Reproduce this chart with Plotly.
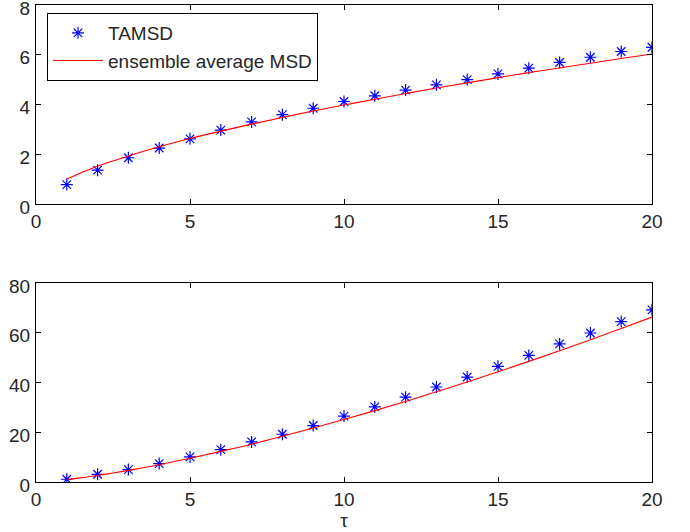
import plotly.graph_objects as go
from plotly.subplots import make_subplots

# ---- data ----
tau_points = [1, 2, 3, 4, 5, 6, 7, 8, 9, 10, 11, 12, 13, 14, 15, 16, 17, 18, 19, 20]
tamsd_top = [0.78, 1.36, 1.86, 2.25, 2.62, 2.97, 3.30, 3.59, 3.85, 4.12,
             4.35, 4.58, 4.79, 5.00, 5.23, 5.46, 5.69, 5.90, 6.13, 6.30]
tamsd_bottom = [1.1, 3.1, 5.0, 7.4, 10.1, 13.0, 16.1, 19.2, 22.7, 26.5,
                30.2, 34.1, 38.2, 42.2, 46.5, 50.9, 55.5, 59.9, 64.5, 69.2]

tau_line = [1, 1.25, 1.5, 1.75, 2, 2.5, 3, 4, 5, 6, 7, 8, 9, 10,
            11, 12, 13, 14, 15, 16, 17, 18, 19, 20]
msd_top = [1.00, 1.14, 1.28, 1.40, 1.52, 1.73, 1.93, 2.30, 2.63, 2.93, 3.21, 3.48, 3.74, 3.98,
           4.21, 4.44, 4.66, 4.87, 5.08, 5.28, 5.47, 5.66, 5.85, 6.03]
msd_bottom = [1.0, 1.37, 1.76, 2.19, 2.64, 3.61, 4.66, 6.96, 9.52, 12.3, 15.2, 18.4, 21.7, 25.1,
              28.7, 32.4, 36.3, 40.2, 44.3, 48.5, 52.8, 57.2, 61.7, 66.3]

x_ticks = [0, 5, 10, 15, 20]
y_ticks_top = [0, 2, 4, 6, 8]
y_ticks_bottom = [0, 20, 40, 60, 80]

FONT = "Liberation Sans, Arial, Helvetica, sans-serif"
FS = 19

fig = make_subplots(rows=2, cols=1)

marker = dict(symbol="asterisk-open", size=10, color="#0000ff",
              line=dict(color="#0000ff", width=1.2))

fig.add_trace(go.Scatter(x=tau_points, y=tamsd_top, mode="markers", marker=marker,
                         name="TAMSD", showlegend=True), row=1, col=1)
fig.add_trace(go.Scatter(x=tau_line, y=msd_top, mode="lines",
                         line=dict(color="#ff0000", width=1.1, shape="spline"),
                         name="ensemble average MSD", showlegend=True), row=1, col=1)
fig.add_trace(go.Scatter(x=tau_points, y=tamsd_bottom, mode="markers", marker=marker,
                         name="TAMSD", showlegend=False), row=2, col=1)
fig.add_trace(go.Scatter(x=tau_line, y=msd_bottom, mode="lines",
                         line=dict(color="#ff0000", width=1.1, shape="spline"),
                         name="ensemble average MSD", showlegend=False), row=2, col=1)

W, H = 690, 532
xdom = [36 / W, 652 / W]
ydom_top = [1 - 204 / H, 1 - 5 / H]
ydom_bot = [1 - 482 / H, 1 - 283 / H]

axis_common = dict(showline=True, linecolor="black", linewidth=1, mirror="ticks",
                   ticks="inside", ticklen=5, tickcolor="black", tickwidth=1,
                   showgrid=False, zeroline=False, automargin=False,
                   ticklabeloverflow="allow",
                   tickfont=dict(family=FONT, size=FS, color="#262626"))
yaxis_extra = dict(ticklabelshift=3, ticklabelstandoff=1)

fig.update_layout(
    width=W, height=H,
    margin=dict(l=0, r=0, t=0, b=0, autoexpand=False),
    paper_bgcolor="white", plot_bgcolor="white",
    font=dict(family=FONT, size=FS, color="#262626"),
    xaxis=dict(domain=xdom, range=[0, 20], tickvals=x_ticks, anchor="y", **axis_common),
    yaxis=dict(domain=ydom_top, range=[0, 8], tickvals=y_ticks_top, anchor="x",
               **axis_common, **yaxis_extra),
    xaxis2=dict(domain=xdom, range=[0, 20], tickvals=x_ticks, anchor="y2",
                title=dict(text="τ", standoff=2, font=dict(family=FONT, size=FS)),
                **axis_common),
    yaxis2=dict(domain=ydom_bot, range=[0, 80], tickvals=y_ticks_bottom, anchor="x2",
                **axis_common, **yaxis_extra),
    legend=dict(x=47 / W, y=1 - 13 / H, xanchor="left", yanchor="top",
                bordercolor="black", borderwidth=1, bgcolor="white",
                font=dict(family=FONT, size=FS, color="#262626"),
                itemwidth=50, tracegroupgap=0),
    showlegend=True,
)

fig.write_html("out.html", config={"displayModeBar": False},
               post_script="document.body.style.margin='0';document.body.style.padding='0';")
